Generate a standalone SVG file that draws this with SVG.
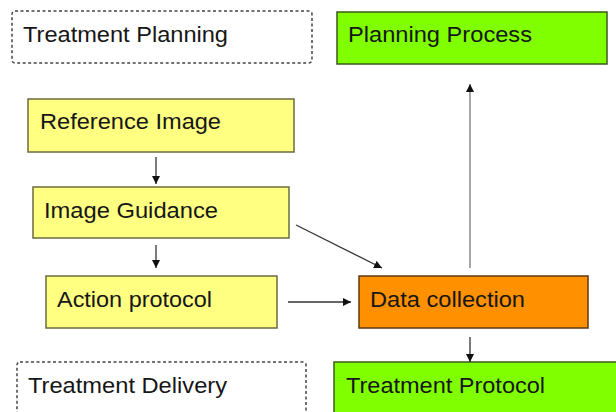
<svg xmlns="http://www.w3.org/2000/svg" width="616" height="412" viewBox="0 0 616 412">
<defs>
<style>
.t{font-family:"Liberation Sans",Arial,sans-serif;font-size:22px;fill:#161616}
.dash{fill:#fff;stroke:#444;stroke-width:1.5;stroke-dasharray:3,2.5}
.y{fill:#ffff82;stroke:#6b6b40;stroke-width:1.5}
.g{fill:#80ff00;stroke:#3d5a1e;stroke-width:1.5}
.o{fill:#ff9000;stroke:#5a3a10;stroke-width:1.5}
.c{stroke:#333;stroke-width:1.3;fill:none;marker-end:url(#ah)}
.cg{stroke:#777;stroke-width:1.3;fill:none;marker-end:url(#ah)}
</style>
<marker id="ah" viewBox="0 0 10 10" refX="10" refY="5" markerWidth="8" markerHeight="8" markerUnits="userSpaceOnUse" orient="auto">
<path d="M0,0 L10,5 L0,10 z" fill="#111"/>
</marker>
</defs>
<rect width="616" height="412" fill="#fff"/>
<g id="treatment-planning">
<rect class="dash" x="12" y="11" width="300" height="52" rx="3"/>
<text class="t" x="23" y="42" textLength="205" lengthAdjust="spacingAndGlyphs">Treatment Planning</text>
</g>
<g id="planning-process">
<rect class="g" x="337" y="12" width="270" height="52"/>
<text class="t" x="348" y="42" textLength="184" lengthAdjust="spacingAndGlyphs">Planning Process</text>
</g>
<g id="reference-image">
<rect class="y" x="28" y="99" width="266" height="53"/>
<text class="t" x="40" y="129" textLength="181" lengthAdjust="spacingAndGlyphs">Reference Image</text>
</g>
<g id="image-guidance">
<rect class="y" x="33" y="187" width="256" height="51"/>
<text class="t" x="44" y="218" textLength="174" lengthAdjust="spacingAndGlyphs">Image Guidance</text>
</g>
<g id="action-protocol">
<rect class="y" x="46" y="276" width="231" height="52"/>
<text class="t" x="57" y="307" textLength="155" lengthAdjust="spacingAndGlyphs">Action protocol</text>
</g>
<g id="data-collection">
<rect class="o" x="359" y="276" width="229" height="52"/>
<text class="t" x="370" y="307" textLength="155" lengthAdjust="spacingAndGlyphs">Data collection</text>
</g>
<g id="treatment-delivery">
<rect class="dash" x="17" y="362" width="289" height="60" rx="3"/>
<text class="t" x="28" y="393" textLength="199" lengthAdjust="spacingAndGlyphs">Treatment Delivery</text>
</g>
<g id="treatment-protocol">
<rect class="g" x="334" y="362" width="290" height="60"/>
<text class="t" x="346" y="393" textLength="199" lengthAdjust="spacingAndGlyphs">Treatment Protocol</text>
</g>
<g id="connectors">
<line class="c" x1="156" y1="157" x2="156" y2="184"/>
<line class="c" x1="156" y1="245" x2="156" y2="268"/>
<line class="c" x1="288" y1="302" x2="351" y2="302"/>
<line class="c" x1="296" y1="225" x2="382" y2="268"/>
<line class="cg" x1="470" y1="268" x2="470" y2="84"/>
<line class="c" x1="470" y1="337" x2="470" y2="362"/>
</g>
</svg>
